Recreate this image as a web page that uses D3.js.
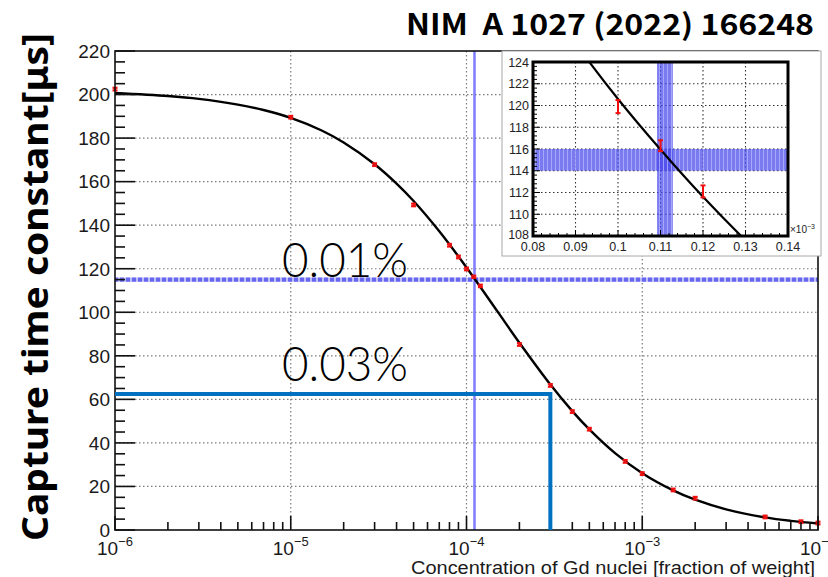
<!DOCTYPE html>
<html>
<head>
<meta charset="utf-8">
<script src="https://cdn.jsdelivr.net/npm/d3@7"></script>
<style>
  html, body { margin: 0; padding: 0; background: #fff; }
  svg { display: block; }
</style>
</head>
<body>
<svg id="chart" width="828" height="577"></svg>
<script>
// Measured capture time constants vs Gd concentration (fraction of weight)
const concentrations = [1e-6, 1e-5, 3e-5, 5e-5, 8e-5, 9e-5, 1e-4, 1.1e-4, 1.2e-4, 2e-4, 3e-4, 4e-4, 5e-4, 8e-4, 1e-3, 1.5e-3, 2e-3, 5e-3, 8e-3, 1e-2];
const captureTimes   = [202.5, 189.6, 167.8, 149.3, 130.8, 125.4, 119.9, 116.3, 112.1, 85.2, 66.4, 54.4, 46.3, 31.5, 25.9, 18.4, 14.6, 6.0, 3.8, 3.2];
const captureErrors  = [0.6, 0.6, 0.6, 0.6, 0.6, 0.6, 0.6, 0.5, 0.55, 0.6, 0.6, 0.6, 0.6, 0.6, 0.6, 0.6, 0.6, 0.6, 0.6, 0.6];

// Fitted curve, sampled
const fitConc = [1e-6, 2e-6, 3e-6, 5e-6, 7e-6, 1e-5, 1.5e-5, 2e-5, 3e-5, 4e-5, 5e-5, 7e-5, 1e-4, 1.5e-4, 2e-4, 3e-4, 4e-4, 5e-4, 7e-4, 1e-3, 1.5e-3, 2e-3, 3e-3, 5e-3, 7e-3, 1e-2];
const fitTime = [200.7, 199.3, 198.0, 195.4, 192.9, 189.3, 183.5, 178.0, 168.0, 159.1, 151.1, 137.2, 120.6, 100.4, 86.0, 66.8, 54.6, 46.2, 35.3, 26.1, 18.2, 13.9, 9.5, 5.8, 4.2, 3.0];

// Fitted curve in the zoomed window (concentration in units of 1e-3)
const insetFitConc = [0.08, 0.09, 0.10, 0.11, 0.12, 0.13, 0.14];
const insetFitTime = [131.2, 125.7, 120.6, 115.95, 111.6, 107.6, 103.9];

// Highlighted bands: target time window and matching concentration window
const bandConc = [1.092e-4, 1.129e-4];
const bandTime = [114, 116];

// Guide at 0.03% level
const guideConc = 3e-4;
const guideTime = 62.5;

const yTicks = [0, 20, 40, 60, 80, 100, 120, 140, 160, 180, 200, 220];
const xDecades = [-6, -5, -4, -3, -2];
const insetXTicks = [0.08, 0.09, 0.10, 0.11, 0.12, 0.13, 0.14];
const insetYTicks = [108, 110, 112, 114, 116, 118, 120, 122, 124];

const titleText = "NIM\u00a0\u00a0A 1027 (2022) 166248";
const yTitle = "Capture time constant[\u03bcs]";
const xTitle = "Concentration of Gd nuclei [fraction of weight]";
const noteLabels = ["0.01%", "0.03%"];

const svg = d3.select("#chart");
const axisFont = "'Liberation Sans', Arial, sans-serif";

// ---------- main frame ----------
const M = { left: 115, right: 818, top: 51, bottom: 530 };
const x = d3.scaleLog().domain([1e-6, 1e-2]).range([M.left, M.right]);
const y = d3.scaleLinear().domain([0, 220]).range([M.bottom, M.top]);

const defs = svg.append("defs");
defs.append("clipPath").attr("id", "mainClip")
  .append("rect").attr("x", M.left).attr("y", M.top)
  .attr("width", M.right - M.left).attr("height", M.bottom - M.top);

// striped blue fills used for the bands
const pat = defs.append("pattern").attr("id", "bandFill")
  .attr("patternUnits", "userSpaceOnUse").attr("width", 4).attr("height", 4);
pat.append("rect").attr("width", 4).attr("height", 4).attr("fill", "rgba(70,70,235,0.72)");
pat.append("rect").attr("x", 3).attr("width", 1).attr("height", 4).attr("fill", "rgba(200,200,255,0.6)");

const pat2 = defs.append("pattern").attr("id", "bandDash")
  .attr("patternUnits", "userSpaceOnUse").attr("width", 6).attr("height", 6);
pat2.append("rect").attr("width", 6).attr("height", 6).attr("fill", "rgba(175,175,250,0.8)");
pat2.append("rect").attr("width", 4).attr("height", 6).attr("fill", "rgba(80,80,235,0.8)");

svg.append("rect").attr("width", 828).attr("height", 577).attr("fill", "#fff");

// grid
const grid = svg.append("g").attr("stroke", "#7a7a7a").attr("stroke-width", 1.2)
  .attr("stroke-dasharray", "1.5,2.5");
yTicks.filter(t => t > 0 && t < 220).forEach(t => {
  grid.append("line").attr("x1", M.left).attr("x2", M.right).attr("y1", y(t)).attr("y2", y(t));
});
xDecades.slice(1, -1).forEach(d => {
  const v = Math.pow(10, d);
  grid.append("line").attr("x1", x(v)).attr("x2", x(v)).attr("y1", M.top).attr("y2", M.bottom);
});

// bands
const bands = svg.append("g").attr("clip-path", "url(#mainClip)");
bands.append("rect").attr("x", x(bandConc[0])).attr("width", x(bandConc[1]) - x(bandConc[0]))
  .attr("y", M.top).attr("height", M.bottom - M.top).attr("fill", "rgba(105,105,250,0.85)");
bands.append("rect").attr("x", M.left).attr("width", M.right - M.left)
  .attr("y", y(bandTime[1])).attr("height", y(bandTime[0]) - y(bandTime[1])).attr("fill", "url(#bandDash)");

// fitted curve
const fitLine = d3.line().x(d => x(d[0])).y(d => y(d[1])).curve(d3.curveCatmullRom.alpha(0.5));
svg.append("path").attr("clip-path", "url(#mainClip)")
  .attr("d", fitLine(fitConc.map((c, i) => [c, fitTime[i]])))
  .attr("fill", "none").attr("stroke", "#000").attr("stroke-width", 2.4);

// data points with error bars
function drawPoints(g, xs, ys, es, sx, sy, cap) {
  xs.forEach((c, i) => {
    const px = sx(c);
    const y0 = sy(ys[i] - es[i]), y1 = sy(ys[i] + es[i]);
    g.append("line").attr("x1", px).attr("x2", px).attr("y1", y0).attr("y2", y1);
    g.append("line").attr("x1", px - cap).attr("x2", px + cap).attr("y1", y0).attr("y2", y0);
    g.append("line").attr("x1", px - cap).attr("x2", px + cap).attr("y1", y1).attr("y2", y1);
  });
}
const pts = svg.append("g").attr("stroke", "#f01010").attr("stroke-width", 2.2);
drawPoints(pts, concentrations, captureTimes, captureErrors, x, y, 2.5);

// frame and ticks
const frame = svg.append("g").attr("stroke", "#111").attr("stroke-width", 1.6);
frame.append("rect").attr("x", M.left).attr("y", M.top).attr("width", M.right - M.left)
  .attr("height", M.bottom - M.top).attr("fill", "none");
d3.range(0, 221, 5).forEach(t => {
  const major = t % 20 === 0;
  frame.append("line").attr("x1", M.left).attr("x2", M.left + (major ? 20 : 10))
    .attr("y1", y(t)).attr("y2", y(t));
});
xDecades.forEach((d, k) => {
  const base = Math.pow(10, d);
  frame.append("line").attr("x1", x(base)).attr("x2", x(base)).attr("y1", M.bottom).attr("y2", M.bottom - 14);
  if (k < xDecades.length - 1) {
    d3.range(2, 10).forEach(m => {
      const v = m * base;
      frame.append("line").attr("x1", x(v)).attr("x2", x(v)).attr("y1", M.bottom).attr("y2", M.bottom - 8);
    });
  }
});

// y tick labels
const yl = svg.append("g").attr("font-family", axisFont).attr("font-size", 19).attr("fill", "#1a1a1a")
  .attr("text-anchor", "end");
yTicks.forEach(t => {
  yl.append("text").attr("x", 110).attr("y", y(t)).attr("dy", "0.36em").text(t);
});

// x tick labels: 10 with superscript exponent
const xl = svg.append("g").attr("font-family", axisFont).attr("fill", "#1a1a1a");
xDecades.forEach(d => {
  const t = xl.append("text").attr("x", x(Math.pow(10, d)) - 18).attr("y", 555).attr("font-size", 19);
  t.append("tspan").text("10");
  t.append("tspan").attr("dy", -9).attr("font-size", 13).text("\u2212" + Math.abs(d));
});

// axis titles
svg.append("text").attr("x", 815).attr("y", 574).attr("text-anchor", "end")
  .attr("font-family", axisFont).attr("font-size", 17.5).attr("fill", "#1a1a1a")
  .attr("textLength", 404).attr("lengthAdjust", "spacingAndGlyphs").text(xTitle);

svg.append("text").attr("transform", "translate(48,541) rotate(-90)")
  .attr("font-family", "'Noto Sans', 'Noto Sans CJK JP', sans-serif").attr("font-weight", 700)
  .attr("font-size", 36).attr("fill", "#000")
  .attr("textLength", 508).attr("lengthAdjust", "spacingAndGlyphs").text(yTitle);

// publication reference
svg.append("text").attr("x", 814).attr("y", 35).attr("text-anchor", "end")
  .attr("font-family", "'Noto Sans CJK JP', 'Noto Sans', sans-serif").attr("font-weight", 700)
  .attr("font-size", 29).attr("fill", "#000")
  .attr("textLength", 408).attr("lengthAdjust", "spacingAndGlyphs").text(titleText);

// ---------- inset ----------
const P = { left: 502, right: 821, top: 51, bottom: 256 };
svg.append("rect").attr("x", P.left).attr("y", P.top).attr("width", P.right - P.left)
  .attr("height", P.bottom - P.top).attr("fill", "#fff").attr("stroke", "#a8a8a8").attr("stroke-width", 1);

const I = { left: 533, right: 788, top: 62, bottom: 236 };
const ix = d3.scaleLinear().domain([0.08, 0.14]).range([I.left, I.right]);
const iy = d3.scaleLinear().domain([108, 124]).range([I.bottom, I.top]);
defs.append("clipPath").attr("id", "insetClip")
  .append("rect").attr("x", I.left).attr("y", I.top)
  .attr("width", I.right - I.left).attr("height", I.bottom - I.top);

const igrid = svg.append("g").attr("stroke", "#333").attr("stroke-width", 1.1)
  .attr("stroke-dasharray", "1.5,2.5");
insetXTicks.slice(1, -1).forEach(t => {
  igrid.append("line").attr("x1", ix(t)).attr("x2", ix(t)).attr("y1", I.top).attr("y2", I.bottom);
});
insetYTicks.slice(1, -1).forEach(t => {
  igrid.append("line").attr("x1", I.left).attr("x2", I.right).attr("y1", iy(t)).attr("y2", iy(t));
});

const ibands = svg.append("g").attr("clip-path", "url(#insetClip)");
ibands.append("rect").attr("x", ix(bandConc[0] * 1e3)).attr("width", ix(bandConc[1] * 1e3) - ix(bandConc[0] * 1e3))
  .attr("y", I.top).attr("height", I.bottom - I.top).attr("fill", "url(#bandFill)");
ibands.append("rect").attr("x", I.left).attr("width", I.right - I.left)
  .attr("y", iy(bandTime[1])).attr("height", iy(bandTime[0]) - iy(bandTime[1])).attr("fill", "url(#bandFill)");

const iline = d3.line().x(d => ix(d[0])).y(d => iy(d[1])).curve(d3.curveMonotoneX);
svg.append("path").attr("clip-path", "url(#insetClip)")
  .attr("d", iline(insetFitConc.map((c, i) => [c, insetFitTime[i]])))
  .attr("fill", "none").attr("stroke", "#000").attr("stroke-width", 2.2);

// only points that fall inside the zoomed window
const inIdx = concentrations.map((c, i) => i).filter(i =>
  concentrations[i] * 1e3 >= 0.08 && concentrations[i] * 1e3 <= 0.14 &&
  captureTimes[i] >= 108 && captureTimes[i] <= 124);
const ipts = svg.append("g").attr("stroke", "#f01010").attr("stroke-width", 2)
  .attr("clip-path", "url(#insetClip)");
drawPoints(ipts, inIdx.map(i => concentrations[i] * 1e3), inIdx.map(i => captureTimes[i]),
  inIdx.map(i => captureErrors[i]), ix, iy, 2.5);

const iframe = svg.append("g").attr("stroke", "#000");
iframe.append("rect").attr("x", I.left).attr("y", I.top).attr("width", I.right - I.left)
  .attr("height", I.bottom - I.top).attr("fill", "none").attr("stroke-width", 3);
d3.range(108, 124.01, 0.4).forEach(t => {
  const major = Math.abs(t - Math.round(t / 2) * 2) < 1e-6;
  iframe.append("line").attr("x1", I.left).attr("x2", I.left + (major ? 7 : 4))
    .attr("y1", iy(t)).attr("y2", iy(t)).attr("stroke-width", 1);
});
d3.range(0.08, 0.1401, 0.002).forEach(t => {
  const major = Math.abs(t * 100 - Math.round(t * 100)) < 1e-6;
  iframe.append("line").attr("x1", ix(t)).attr("x2", ix(t)).attr("y1", I.bottom)
    .attr("y2", I.bottom - (major ? 6 : 3)).attr("stroke-width", 1);
});

const il = svg.append("g").attr("font-family", axisFont).attr("font-size", 12.5).attr("fill", "#222");
insetYTicks.forEach(t => {
  il.append("text").attr("x", 529).attr("y", iy(t) - (t === 108 ? 2 : 0)).attr("dy", "0.36em")
    .attr("text-anchor", "end").text(t);
});
insetXTicks.forEach(t => {
  il.append("text").attr("x", ix(t)).attr("y", 251).attr("text-anchor", "middle").text(d3.format(".2~f")(t));
});
const ex = il.append("text").attr("x", 790).attr("y", 233).attr("font-size", 10);
ex.append("tspan").text("\u00d710");
ex.append("tspan").attr("dy", -4).attr("font-size", 7).text("\u22123");

// ---------- annotations ----------
const guide = svg.append("g").attr("stroke", "#0070c0").attr("stroke-width", 4).attr("fill", "none");
guide.append("path")
  .attr("d", `M${M.left},${y(guideTime)}H${x(guideConc) + 2}M${x(guideConc)},${y(guideTime)}V${M.bottom}`);

const notes = svg.append("g").attr("font-family", "Lato, 'Open Sans', sans-serif").attr("font-weight", 300)
  .attr("font-size", 47).attr("fill", "#000");
notes.append("text").attr("x", 282).attr("y", 277).attr("textLength", 126)
  .attr("lengthAdjust", "spacingAndGlyphs").text(noteLabels[0]);
notes.append("text").attr("x", 282).attr("y", 381).attr("textLength", 126)
  .attr("lengthAdjust", "spacingAndGlyphs").text(noteLabels[1]);
</script>
</body>
</html>
